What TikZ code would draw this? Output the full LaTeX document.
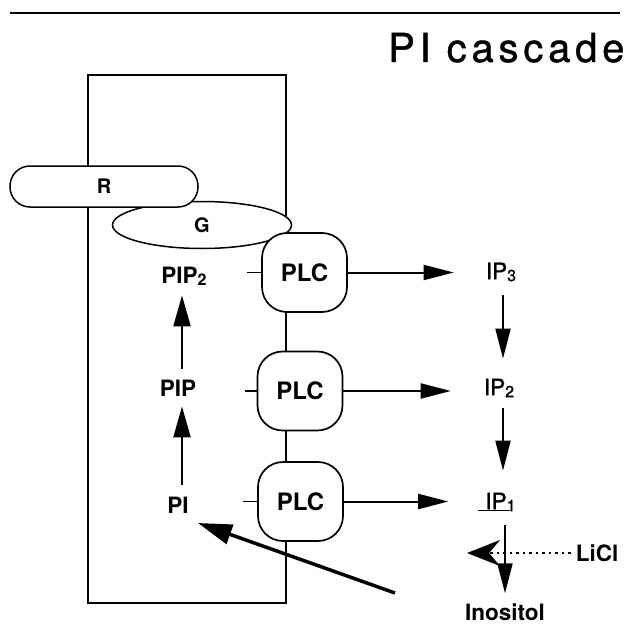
\documentclass[tikz,border=0pt]{standalone}
\usepackage{fontspec}
\setmainfont{TeX Gyre Heros}
\newfontfamily\titlefont[LetterSpace=12,FakeBold=1]{TeX Gyre Heros}
\newfontfamily\ipfont[FakeBold=1.5]{TeX Gyre Heros}
\usetikzlibrary{arrows.meta,shapes.geometric}
\newcommand{\lsub}[1]{\raisebox{-2pt}{\fontsize{16}{16}\selectfont #1}}
\begin{document}
\begin{tikzpicture}[x=1pt,y=-1pt,
  memb/.style={line width=1.6pt},
  plc/.style={draw, line width=1.7pt, fill=white, rounded corners=25pt, minimum width=85pt, minimum height=79pt, inner sep=0pt, font=\fontsize{24}{26}\selectfont\bfseries},
  lbl/.style={inner sep=0pt, font=\fontsize{22.5}{24}\selectfont\bfseries},
  iplbl/.style={inner sep=0pt, font=\ipfont\fontsize{22.5}{24}\selectfont},
  arr/.style={line width=2pt, -{Triangle[length=30pt,width=15pt]}},
  uparr/.style={line width=2.2pt, -{Triangle[length=31pt,width=17pt]}},
  tick/.style={line width=1.6pt},
]
\useasboundingbox (0,0) rectangle (625,626);
% header rule and title
\coordinate (ruleL) at (10,13);
\coordinate (ruleR) at (620,13);
\draw[line width=2pt] (ruleL) -- (ruleR);
\node[anchor=base west, inner sep=0pt, font=\titlefont\fontsize{40}{44}\selectfont] (title) at (388,62) {PI cascade};
% membrane box
\draw[memb] (88,75) rectangle (286,603);
% G protein and receptor
\node[ellipse, draw, line width=1.5pt, fill=white, minimum width=179pt, minimum height=47pt, inner sep=0pt, font=\fontsize{20}{22}\selectfont\bfseries] (G) at (202,225) {G};
\node[draw, line width=1.5pt, fill=white, rounded corners=20pt, minimum width=188pt, minimum height=41pt, inner sep=0pt, font=\fontsize{20}{22}\selectfont\bfseries] (R) at (104,186.5) {R};
% PLC boxes
\node[plc] (plc1) at (304.5,272.5) {PLC};
\node[plc] (plc2) at (300,391) {PLC};
\node[plc] (plc3) at (300.5,501.5) {PLC};
% ticks
\draw[tick] (plc1.west) -- ++(-14,0);
\draw[tick] (plc2.west) -- ++(-12,0);
\draw[tick] (plc3.west) -- ++(-14,0);
% lipids
\node[lbl] (pip2) at (184,276) {PIP\lsub{2}};
\node[lbl] (pip) at (178,388) {PIP};
\node[lbl] (pi) at (178,505) {PI};
% inositol phosphates
\node[iplbl] (ip3) at (501,272) {IP\lsub{3}};
\node[iplbl] (ip2) at (499,388) {IP\lsub{2}};
\node[iplbl] (ip1) at (497,502) {\underline{\hspace{7pt}IP\hspace{3pt}}\hspace{-3pt}\lsub{1}};
\node[lbl] (ino) at (505,612) {Inositol};
\node[lbl] (licl) at (597,553) {LiCl};
% PLC to IP arrows
\draw[arr] (plc1.east) -- ([xshift=-32pt]plc1.east -| ip3.west);
\draw[arr] (plc2.east) -- ([xshift=-33pt]plc2.east -| ip2.west);
\draw[arr] (plc3.east) -- ([xshift=-30pt]plc3.east -| ip1.west);
% IP cascade
\draw[arr, shorten <=13pt, shorten >=20pt] (ip3.south -| 503,0) -- (ip2.north -| 503,0);
\draw[arr, shorten <=11pt, shorten >=22pt] (ip2.south -| 503,0) -- (ip1.north -| 503,0);
\draw[arr, shorten <=14pt, shorten >=10pt] (ip1.south -| 505,0) -- (ino.north -| 505,0);
% lipid conversions
\draw[uparr, shorten <=12pt, shorten >=10pt] (pi.north -| 182,0) -- (pip.south -| 182,0);
\draw[uparr, shorten <=11pt, shorten >=10pt] (pip.north -| 182,0) -- (pip2.south -| 182,0);
% recycling arrow
\coordinate (bigtail) at (395,593);
\coordinate (bigtip) at (198,523);
\draw[line width=3.5pt, -{Triangle[length=34pt,width=20pt]}] (bigtail) -- (bigtip);
% LiCl inhibition
\coordinate (litip) at (467,553);
\draw[line width=2pt, dash pattern=on 2.5pt off 4pt, -{Stealth[length=33pt,width=26pt,inset=11pt]}, shorten <=5pt] (licl.west) -- (litip);
\end{tikzpicture}
\end{document}
